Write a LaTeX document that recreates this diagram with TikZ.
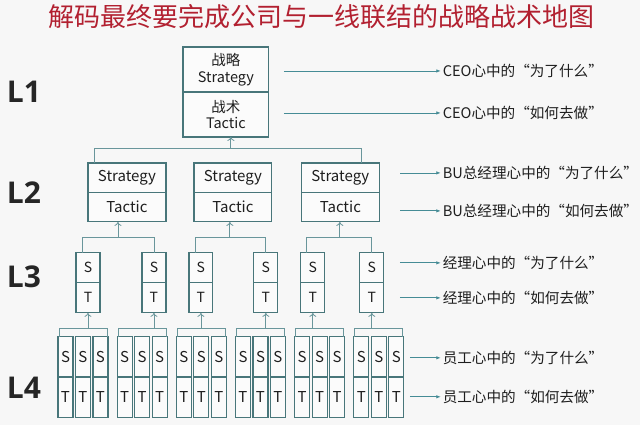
\documentclass[tikz,border=0pt]{standalone}
\usepackage{fontspec}
\setmainfont{Noto Sans CJK SC}
\newfontfamily\levelfont{Open Sans}
\usetikzlibrary{arrows.meta,positioning}
\definecolor{titlered}{RGB}{178,32,48}
\definecolor{boxline}{RGB}{72,118,122}
\definecolor{linkline}{RGB}{105,150,155}
\definecolor{tipline}{RGB}{70,140,150}
\definecolor{inktext}{RGB}{30,30,30}
\definecolor{paper}{RGB}{247,247,247}

\begin{document}
\begin{tikzpicture}[x=1pt, y=-1pt,
    every node/.style = {inner sep=0pt, outer sep=0pt, text=inktext},
    cell/.style = {draw=boxline, line width=1.2pt, fill=white!50!paper},
    topcell/.style = {cell, minimum width=86pt, minimum height=45pt,
                      align=center, font=\fontsize{14.5}{16.5}\selectfont},
    midcell/.style = {cell, minimum width=78pt, minimum height=29.5pt,
                      font=\fontsize{15}{18}\selectfont},
    smallcell/.style = {cell, minimum width=24pt, minimum height=30pt,
                        font=\fontsize{14}{16}\selectfont},
    tinycell/.style = {cell, minimum width=15pt, minimum height=40.5pt,
                       font=\fontsize{15}{17}\selectfont},
    link/.style = {draw=linkline, line width=0.8pt},
    up/.style = {link, -{To[length=4pt,width=7pt]}},
    tip/.style = {draw=tipline, line width=0.8pt, -{Latex[length=4.5pt,width=3.5pt]}},
    note/.style = {anchor=west, inner sep=2pt, font=\fontsize{14.6}{16}\selectfont},
    level/.style = {font=\levelfont\bfseries\fontsize{30}{32}\selectfont, text=black!85}
  ]

  \fill[paper] (0,0) rectangle (640,425);

  \node[font=\fontsize{26}{30}\selectfont, text=titlered] (title) at (322,17)
       {解码最终要完成公司与一线联结的战略战术地图};

  % levels
  \node[level] (lv1) at (24,92) {L1};
  \node[level] (lv2) at (24,193) {L2};
  \node[level] (lv3) at (24,277) {L3};
  \node[level] (lv4) at (24,388) {L4};

  % L1
  \node[topcell] (ceoS) at (226,69.5) {战略\\Strategy};
  \node[topcell, below=0pt of ceoS] (ceoT) {战术\\Tactic};

  % L2
  \foreach \n/\x in {1/127,2/233,3/340.5}{
    \node[midcell] (buS\n) at (\x,177.75) {Strategy};
    \node[midcell, below=0pt of buS\n] (buT\n) {Tactic};
  }

  % L3
  \foreach \n/\x in {1/88,2/154,3/201,4/266,5/313,6/372}{
    \node[smallcell] (mgS\n) at (\x,268) {S};
    \node[smallcell, below=0pt of mgS\n] (mgT\n) {T};
  }

  % L4
  \foreach \g in {1,...,6}{
    \foreach \c in {1,2,3}{
      \node[tinycell] (stS\g\c) at ({(\g-1)*59.2+(\c-1)*17.5+65.5},357) {S};
      \node[tinycell, below=0pt of stS\g\c] (stT\g\c) {T};
    }
  }

  % L2 -> L1
  \coordinate (j1) at (231,148);
  \draw[link] ([xshift=6pt]buS1.north west) |- (j1) -| ([xshift=-18pt]buS3.north east);
  \draw[up] (j1) -- (j1 |- ceoT.south);

  % L3 -> L2
  \foreach \n/\a/\b/\x in {1/1/2/118,2/3/4/230,3/5/6/340}{
    \coordinate (j2\n) at (\x,238);
    \draw[link] ([xshift=6pt]mgS\a.north west) |- (j2\n) -| (mgS\b.north);
    \draw[up] (j2\n) -- (j2\n |- buT\n.south);
  }

  % L4 -> L3
  \foreach \g in {1,...,6}{
    \coordinate (j3\g) at (mgT\g.south |- 0,329);
    \draw[link] ([xshift=1pt]stS\g1.north west) |- (j3\g) -| ([xshift=-1pt]stS\g3.north east);
    \draw[up] (j3\g) -- (mgT\g.south);
  }

  % notes
  \node[note] (ceoWhy) at (441,71) {CEO心中的“为了什么”};
  \node[note] (ceoHow) at (441,113) {CEO心中的“如何去做”};
  \node[note] (buWhy) at (441,173) {BU总经理心中的“为了什么”};
  \node[note] (buHow) at (441,211) {BU总经理心中的“如何去做”};
  \node[note] (mgWhy) at (441,263) {经理心中的“为了什么”};
  \node[note] (mgHow) at (441,298) {经理心中的“如何去做”};
  \node[note] (stWhy) at (441,358) {员工心中的“为了什么”};
  \node[note] (stHow) at (441,397) {员工心中的“如何去做”};

  \draw[tip] ([xshift=15pt]ceoS.east |- ceoWhy.west) -- (ceoWhy.west);
  \draw[tip] ([xshift=15pt]ceoT.east |- ceoHow.west) -- (ceoHow.west);
  \draw[tip] ([xshift=21pt]buS3.east |- buWhy.west) -- (buWhy.west);
  \draw[tip] ([xshift=21pt]buT3.east |- buHow.west) -- (buHow.west);
  \draw[tip] ([xshift=16pt]mgS6.east |- mgWhy.west) -- (mgWhy.west);
  \draw[tip] ([xshift=16pt]mgT6.east |- mgHow.west) -- (mgHow.west);
  \draw[tip] ([xshift=6pt]stS63.east |- stWhy.west) -- (stWhy.west);
  \draw[tip] ([xshift=6pt]stT63.east |- stHow.west) -- (stHow.west);
\end{tikzpicture}
\end{document}
